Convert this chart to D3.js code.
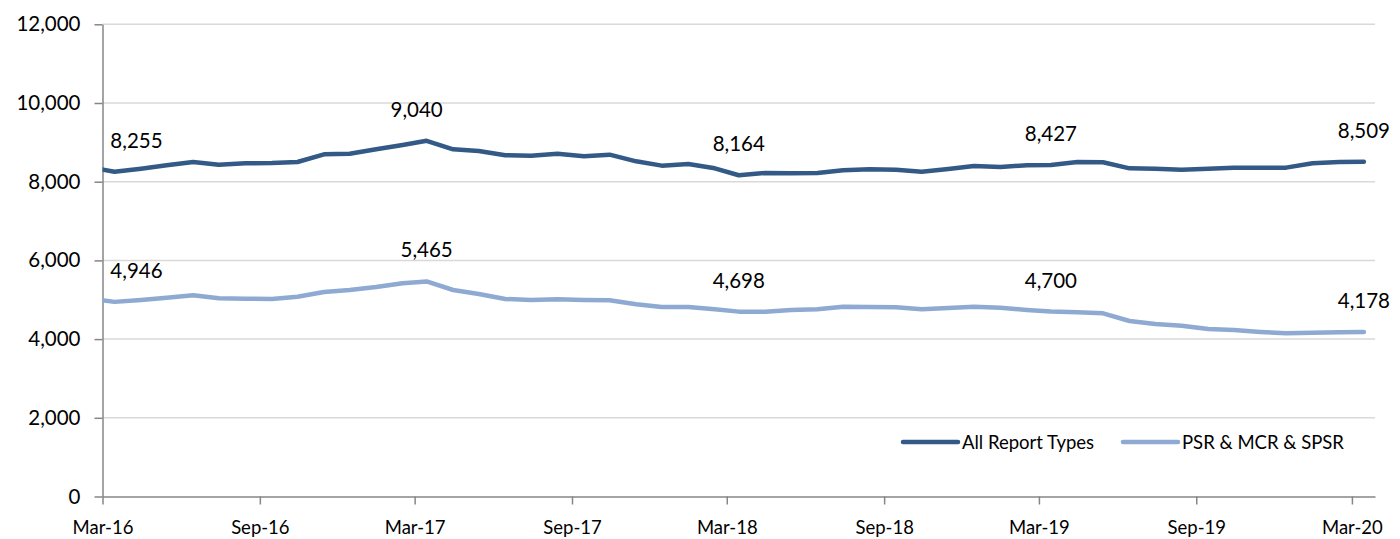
<!DOCTYPE html>
<html>
<head>
<meta charset="utf-8">
<script src="https://cdn.jsdelivr.net/npm/d3@7"></script>
<style>
  body { margin: 0; background: #fff; }
  svg { display: block; font-family: Lato, 'Open Sans', sans-serif; }
</style>
</head>
<body>
<svg id="chart"></svg>
<script>
// monthly points (plotted mid-month); Feb-16 sits left of the axis and gets clipped
let months = ['Feb-16','Mar-16','Apr-16','May-16','Jun-16','Jul-16','Aug-16','Sep-16','Oct-16','Nov-16','Dec-16',
  'Jan-17','Feb-17','Mar-17','Apr-17','May-17','Jun-17','Jul-17','Aug-17','Sep-17','Oct-17','Nov-17','Dec-17',
  'Jan-18','Feb-18','Mar-18','Apr-18','May-18','Jun-18','Jul-18','Aug-18','Sep-18','Oct-18','Nov-18','Dec-18',
  'Jan-19','Feb-19','Mar-19','Apr-19','May-19','Jun-19','Jul-19','Aug-19','Sep-19','Oct-19','Nov-19','Dec-19',
  'Jan-20','Feb-20','Mar-20']

let allReports = [8366, 8255, 8331, 8417, 8501, 8432, 8467, 8475, 8501, 8696, 8712, 8823, 8933,
  9040, 8823, 8780, 8671, 8662, 8712, 8645, 8687, 8518, 8408, 8450, 8340,
  8164, 8221, 8213, 8221, 8290, 8315, 8305, 8255, 8323, 8399, 8374, 8417,
  8427, 8501, 8493, 8340, 8331, 8305, 8331, 8357, 8357, 8357, 8467, 8501, 8509]

let psrMcrSpsr = [5030, 4946, 4994, 5052, 5113, 5037, 5027, 5019, 5078, 5197, 5248, 5324, 5418,
  5465, 5248, 5146, 5019, 4994, 5011, 4994, 4986, 4884, 4816, 4816, 4757,
  4698, 4697, 4740, 4757, 4824, 4816, 4808, 4757, 4790, 4824, 4799, 4740,
  4700, 4681, 4656, 4460, 4384, 4341, 4257, 4231, 4181, 4147, 4163, 4173, 4178]

let labelMonths = ['Mar-16', 'Mar-17', 'Mar-18', 'Mar-19', 'Mar-20']
let xTickLabels = ['Mar-16','Sep-16','Mar-17','Sep-17','Mar-18','Sep-18','Mar-19','Sep-19','Mar-20']
let yTicks = [0, 2000, 4000, 6000, 8000, 10000, 12000]

let seriesNames = ['All Report Types', 'PSR & MCR & SPSR']
let seriesColors = ['#335a87', '#8eaad2']

let width = 1400
let height = 539
let plotLeft = 102.5
let plotRight = 1375
let plotTop = 24.3
let plotBottom = 496.5

let parseMonth = d3.timeParse('%b-%y')
let midMonth = (m) => d3.timeDay.offset(parseMonth(m), 14)

let svg = d3.select('#chart')
svg.attr('width', width).attr('height', height)

let xScale = d3.scaleTime()
  .domain([parseMonth('Mar-16'), new Date(2020, 2, 28)])
  .range([plotLeft, plotRight])
let yScale = d3.scaleLinear()
  .domain([0, 12000])
  .range([plotBottom, plotTop])

// gridlines
svg.append('g')
  .selectAll('line')
  .data(yTicks.filter(d => d > 0))
  .enter()
  .append('line')
  .attr('x1', plotLeft)
  .attr('x2', plotRight)
  .attr('y1', d => yScale(d))
  .attr('y2', d => yScale(d))
  .attr('stroke', '#d9d9d9')
  .attr('stroke-width', 1.5)

// axes
let yAxis = d3.axisLeft(yScale)
  .tickValues(yTicks)
  .tickFormat(d3.format(','))
  .tickSize(8)
  .tickSizeOuter(0)
let gy = svg.append('g')
  .attr('transform', 'translate(' + plotLeft + ',0)')
  .call(yAxis)
gy.selectAll('text').attr('x', -22).attr('font-size', 20.5).attr('fill', '#000')
  .attr('font-family', 'Lato, sans-serif')

let xAxis = d3.axisBottom(xScale)
  .tickValues(xTickLabels.map(parseMonth))
  .tickFormat(d3.timeFormat('%b-%y'))
  .tickSize(8)
  .tickSizeOuter(0)
let gx = svg.append('g')
  .attr('transform', 'translate(0,' + plotBottom + ')')
  .call(xAxis)
gx.selectAll('text').attr('y', 24).attr('font-size', 18.5).attr('fill', '#000')
  .attr('font-family', 'Lato, sans-serif')

svg.selectAll('.domain, .tick line').attr('stroke', '#868686').attr('stroke-width', 1.5)

// lines
svg.append('clipPath').attr('id', 'plot-clip')
  .append('rect')
  .attr('x', plotLeft).attr('y', 0)
  .attr('width', plotRight - plotLeft + 10).attr('height', height)

let line = d3.line()
  .x((d, i) => xScale(midMonth(months[i])))
  .y(d => yScale(d))

let allSeries = [allReports, psrMcrSpsr]
svg.append('g')
  .attr('clip-path', 'url(#plot-clip)')
  .selectAll('path')
  .data(allSeries)
  .enter()
  .append('path')
  .attr('d', d => line(d))
  .attr('fill', 'none')
  .attr('stroke', (d, i) => seriesColors[i])
  .attr('stroke-width', 4.5)
  .attr('stroke-linejoin', 'round')
  .attr('stroke-linecap', 'round')

// data labels
let labelShift = (m, s) => {
  if (m === 'Mar-16') return 22
  if (m === 'Mar-17' && s === 0) return -10
  return 0
}
allSeries.forEach((values, s) => {
  svg.append('g')
    .selectAll('text')
    .data(labelMonths)
    .enter()
    .append('text')
    .attr('x', m => xScale(midMonth(m)) + labelShift(m, s))
    .attr('y', m => yScale(values[months.indexOf(m)]) - 24)
    .attr('text-anchor', 'middle')
    .attr('font-size', 20.5)
    .attr('fill', '#000')
    .text(m => d3.format(',')(values[months.indexOf(m)]))
})

// legend
let legendX = [903, 1123]
let legend = svg.append('g')
  .selectAll('g')
  .data(seriesNames)
  .enter()
  .append('g')
  .attr('transform', (d, i) => 'translate(' + legendX[i] + ',442)')
legend.append('line')
  .attr('x1', 0).attr('x2', 55)
  .attr('stroke', (d, i) => seriesColors[i])
  .attr('stroke-width', 4.5)
  .attr('stroke-linecap', 'round')
legend.append('text')
  .attr('x', 59)
  .attr('y', 6.5)
  .attr('font-size', 18.5)
  .attr('fill', '#000')
  .text(d => d)
</script>
</body>
</html>
